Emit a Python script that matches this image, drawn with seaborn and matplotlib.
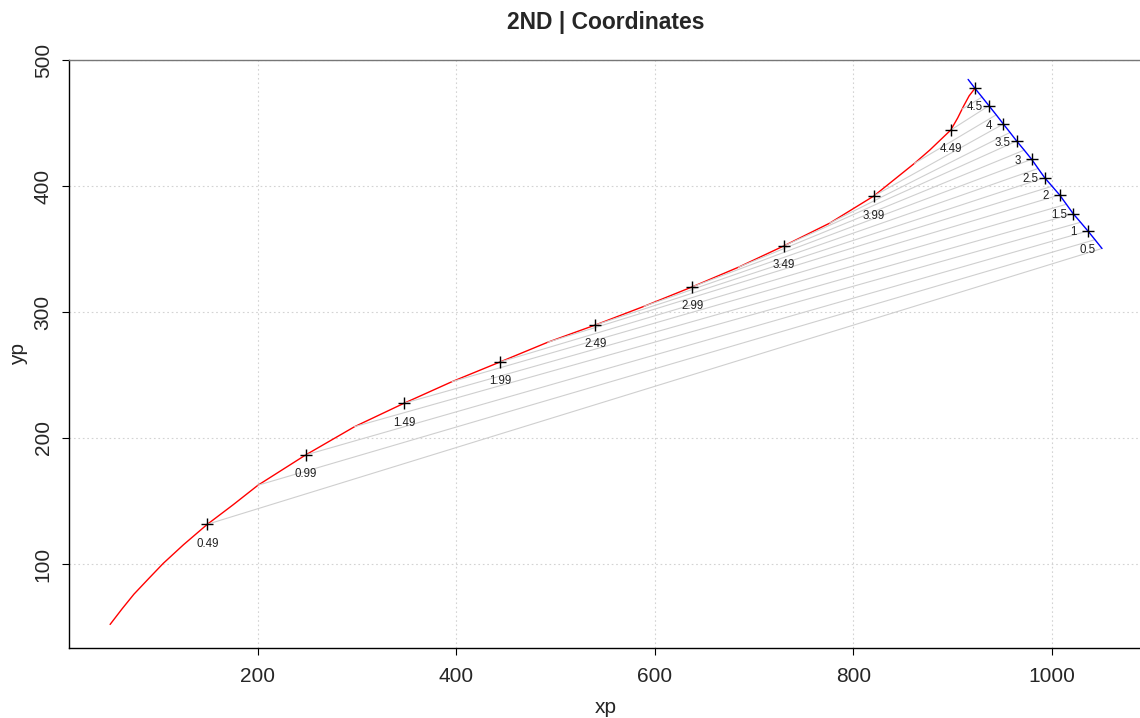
import matplotlib
matplotlib.use("Agg")
import matplotlib.pyplot as plt
import numpy as np
import pandas as pd
import seaborn as sns

# ---------------- data ----------------
# full red trajectory as traced on the picture
red_path_x = [51, 63, 75, 90, 104.6, 125, 149, 175, 200, 248, 297.4, 347, 395.5,
              443.8, 492, 540, 589, 637.7, 684, 729.7, 776, 820.4, 846.8, 861.5,
              877, 898, 905, 911, 916.5, 922.4]
red_path_y = [52, 64.3, 76, 88.5, 100.5, 115.3, 131.5, 147, 162.5, 186.5, 209, 227.5, 244.7,
              260.3, 276, 289.7, 304.5, 320, 335.5, 352.4, 370.5, 392, 408.7, 418,
              428.6, 444.4, 454, 463.5, 471.5, 477.5]

# red trajectory anchors, every 0.25 (t = 0.49 ... 4.99)
red_t = [0.49, 0.74, 0.99, 1.24, 1.49, 1.74, 1.99, 2.24, 2.49, 2.74,
         2.99, 3.24, 3.49, 3.74, 3.99, 4.24, 4.49, 4.74, 4.99]
red_x = [149, 200, 248, 297.4, 347, 395.5, 443.8, 492, 540, 589,
         637.7, 684, 729.7, 776, 820.4, 861.5, 898, 909.5, 922.4]
red_y = [131.5, 162.5, 186.5, 209, 227.5, 244.7, 260.3, 276, 289.7, 304.5,
         320, 335.5, 352.4, 370.5, 392, 418, 444.4, 461, 477.5]

# blue line, every 0.25 (t = 0.5 ... 5.0)
blue_t = [0.5, 0.75, 1.0, 1.25, 1.5, 1.75, 2.0, 2.25, 2.5, 2.75,
          3.0, 3.25, 3.5, 3.75, 4.0, 4.25, 4.5, 4.75, 5.0]
blue_x = [1050.4, 1043.3, 1036.2, 1028.8, 1021.4, 1014.5, 1007.7, 1000.1, 992.6, 986.0,
          979.5, 972.0, 964.4, 957.7, 951.0, 943.8, 936.5, 929.5, 922.4]
blue_y = [350.4, 357.4, 364.3, 371.2, 378.0, 385.5, 392.9, 399.8, 406.6, 413.9,
          421.2, 428.5, 435.7, 442.5, 449.2, 456.5, 463.7, 470.6, 477.5]
blue_end_x = [915.5]
blue_end_y = [484.6]

red_labels = ["0.49", "0.99", "1.49", "1.99", "2.49", "2.99", "3.49", "3.99", "4.49"]
blue_labels = ["0.5", "1", "1.5", "2", "2.5", "3", "3.5", "4", "4.5"]

x_ticks = [200, 400, 600, 800, 1000]
y_ticks = [100, 200, 300, 400, 500]

# ---------------- figure ----------------
sns.set_style("white")
plt.rcParams["font.family"] = ["Liberation Sans", "DejaVu Sans"]

fig = plt.figure(figsize=(11.4, 7.18), dpi=100)
ax = fig.add_axes([69.4 / 1140, 1 - 648 / 718, 1071.9 / 1140, 588 / 718])

# grid
for xv in x_ticks:
    ax.axvline(xv, color="#d3d3d3", lw=0.8, ls=(0, (1.5, 2.5)), zorder=0)
for yv in y_ticks:
    ax.axhline(yv, color="#d3d3d3", lw=0.8, ls=(0, (1.5, 2.5)), zorder=0)

# red trajectory
red_df = pd.DataFrame({"x": red_path_x, "y": red_path_y})
sns.lineplot(data=red_df, x="x", y="y", sort=False, estimator=None,
             color="red", lw=1.0, ax=ax, zorder=2)

# grey connectors red(t) -> blue(t)
rows = []
for i in range(len(red_x) - 1):
    rows.append({"seg": i, "x": red_x[i], "y": red_y[i]})
    rows.append({"seg": i, "x": blue_x[i], "y": blue_y[i]})
seg_df = pd.DataFrame(rows)
sns.lineplot(data=seg_df, x="x", y="y", units="seg", estimator=None, sort=False,
             color="#cfcfcf", lw=0.8, ax=ax, zorder=3)

# blue line
blue_df = pd.DataFrame({"x": blue_x + blue_end_x, "y": blue_y + blue_end_y})
sns.lineplot(data=blue_df, x="x", y="y", sort=False, estimator=None,
             color="blue", lw=1.0, ax=ax, zorder=4)

# crosses
red_cx = red_x[0:17:2] + [red_x[-1]]
red_cy = red_y[0:17:2] + [red_y[-1]]
blue_cx = blue_x[2:17:2]
blue_cy = blue_y[2:17:2]
cross_df = pd.DataFrame({"x": red_cx + blue_cx, "y": red_cy + blue_cy})
sns.scatterplot(data=cross_df, x="x", y="y", marker="+", s=80, color="black",
                linewidth=1.0, ax=ax, zorder=5)

# labels
for lab, xv, yv in zip(red_labels, red_x[0:17:2], red_y[0:17:2]):
    ax.annotate(lab, (xv, yv), xytext=(0, -14), textcoords="offset points",
                ha="center", va="center", fontsize=8.3, color="#222222", zorder=6)
for lab, xv, yv in zip(blue_labels, blue_x[0:17:2], blue_y[0:17:2]):
    ax.annotate(lab, (xv, yv), xytext=(-10.2, -1.1), textcoords="offset points",
                ha="center", va="center", fontsize=8.3, color="#222222", zorder=6)

# axes styling
ax.set_xlim(10, 1090)
ax.set_ylim(33.3, 500)
ax.set_xticks(x_ticks)
ax.set_yticks(y_ticks)
ax.tick_params(axis="both", direction="out", length=5, width=0.8, color="black",
               labelsize=15, left=True, bottom=True)
ax.tick_params(axis="x", pad=9)
ax.tick_params(axis="y", pad=7)
for lab in ax.get_yticklabels():
    lab.set_rotation(90)
    lab.set_va("center")
ax.spines["left"].set_color("black")
ax.spines["bottom"].set_color("black")
ax.spines["left"].set_linewidth(1.0)
ax.spines["bottom"].set_linewidth(1.0)
ax.spines["top"].set_color("#777777")
ax.spines["top"].set_linewidth(1.0)
ax.spines["right"].set_visible(False)

ax.set_xlabel("xp", fontsize=15, labelpad=8)
ax.set_ylabel("yp", fontsize=15, labelpad=4)
ax.set_title("2ND | Coordinates", fontsize=16.5, fontweight="bold", pad=22)

fig.savefig("out.png", dpi=100)
